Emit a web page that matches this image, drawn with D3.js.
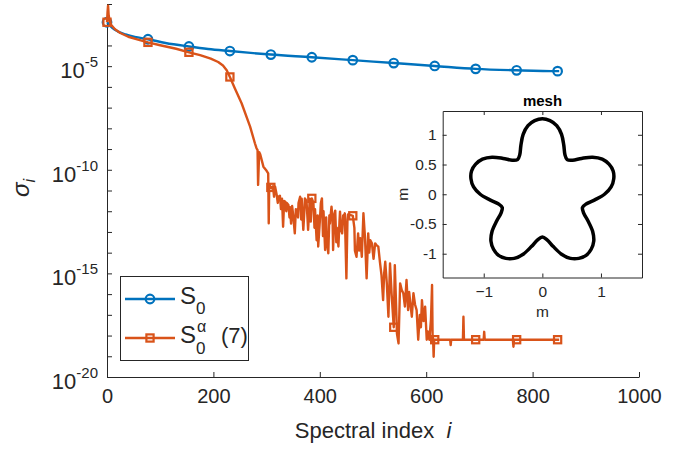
<!DOCTYPE html>
<html><head><meta charset="utf-8">
<script src="https://cdn.jsdelivr.net/npm/d3@7/dist/d3.min.js"></script>
<style>
body{margin:0;background:#fff}
svg{display:block;font-family:"Liberation Sans",Arial,Helvetica,sans-serif}
</style>
</head><body>
<svg id="c" width="697" height="449"></svg>
<script>
// ---------------- data ----------------
const xTicks = [0, 200, 400, 600, 800, 1000];
const yTickExp = [-20,-19,-18,-17,-16,-15,-14,-13,-12,-11,-10,-9,-8,-7,-6,-5,-4,-3,-2];
const yLabelExp = [-20, -15, -10, -5];

// S_0 : spectral index and log10(sigma)
const s0Idx = [0, 3, 6, 10, 20, 35, 55, 77, 110, 154, 190, 231, 270, 308, 385, 462, 539, 616, 693, 770, 847, 850];
const s0Log = [-2.88, -2.95, -3.05, -3.15, -3.32, -3.47, -3.6, -3.7, -3.88, -4.05, -4.17, -4.27, -4.36, -4.44, -4.57, -4.71, -4.85, -4.99, -5.13, -5.2, -5.24, -5.24];

// S_0^alpha (7)
const saIdx = [0,1,2,3,5,8,15,25,40,60,77,100,130,154,175,195,209,218,225,231,240,253,269,278,281,283,284,286,288,294,300,303,
  304,305,308,310,312,314,316,319,321,322,325,327,329,331,333,335,337,338,341,343,344,346,348,350,353,355,357,359,360,363,365,366,369,371,372,375,377,378,380,381,383,385,388,390,391,394,396,397,400,402,404,406,407,410,412,413,416,418,419,422,424,425,427,429,431,432,435,437,438,440,442,444,445,447,450,452,453,
  457,462,465,466,469,472,474,476,479,482,485,488,491,493,495,498,501,504,507,510,513,516,519,521,523,526,529,532,535,539,541,543,545,548,551,554,557,560,563,566,568,570,573,576,579,582,585,588,590,592,595,598,601,603,606,609,611,612,613,614,615,616,
  645,646,647,669,670,671,693,708,709,710,763,764,765,770,847,850];
const saLog = [-2.88,-2.4,-2.08,-2.5,-2.85,-3.02,-3.22,-3.4,-3.58,-3.73,-3.85,-3.99,-4.16,-4.33,-4.47,-4.64,-4.8,-4.97,-5.2,-5.52,-6.05,-6.79,-7.92,-8.72,-8.96,-9.05,-10.73,-9.15,-9.25,-9.85,-10.05,-10.17,
  -12.58,-10.7,-10.85,-10.9,-10.8,-11.3,-10.82,-11.22,-11.6,-11.3,-11.25,-11.9,-11.4,-12.75,-11.5,-11.54,-12.0,-11.6,-11.7,-12.3,-11.8,-12.6,-11.75,-12.2,-13.07,-11.9,-11.94,-12.3,-11.6,-11.3,-12.4,-11.4,-12.9,-12.0,-11.38,-11.5,-12.4,-12.9,-12.0,-11.4,-12.5,-11.38,-11.6,-12.8,-11.9,-13.4,-12.2,-13.7,-12.5,-11.6,-11.38,-13.2,-12.0,-13.87,-12.3,-13.4,-14.03,-12.2,-12.6,-11.78,-12.4,-13.87,-12.2,-11.97,-13.5,-12.8,-13.7,-12.5,-12.02,-12.9,-13.07,-12.2,-12.3,-12.1,-15.24,-12.4,-12.15,
  -12.18,-12.22,-12.8,-13.9,-14.2,-13.07,-13.9,-13.3,-14.2,-12.1,-13.3,-15.24,-13.07,-14.0,-13.4,-13.55,-14.3,-13.55,-13.65,-13.71,-14.44,-15.1,-16.29,-15.0,-14.44,-15.5,-17.09,-14.52,-16.0,-17.6,-14.6,-16.2,-17.9,-18.38,-15.48,-15.8,-15.96,-16.6,-15.32,-16.77,-15.9,-16.4,-17.09,-15.96,-16.5,-16.77,-18.2,-17.0,-17.6,-16.29,-17.3,-16.61,-18.2,-17.8,-18.2,-17.2,-15.56,-18.0,-18.2,-19.02,-18.2,-18.2,
  -18.2,-18.46,-18.2,-18.2,-17.09,-18.2,-18.2,-18.2,-17.82,-18.2,-18.2,-18.54,-18.2,-18.2,-18.2,-18.2];

const markerIdx = [0, 77, 154, 231, 308, 385, 462, 539, 616, 693, 770, 847];

// inset mesh outline: polar angle (deg, clockwise from +y) and radius (m)
const meshAngleDeg = [0,6,12,18,24,30,36,42,48,54,60,66,72,78,84,90,96,102,108,114,120,126,132,138,144,150,156,162,168,174,180,186,192,198,204,210,216,222,228,234,240,246,252,258,264,270,276,282,288,294,300,306,312,318,324,330,336,342,348,354];
const meshRadius = [1.27,1.245,1.18,1.06,0.9,0.77,0.72,0.77,0.9,1.06,1.18,1.245,1.27,1.245,1.18,1.06,0.9,0.77,0.72,0.77,0.9,1.06,1.18,1.245,1.27,1.245,1.18,1.06,0.9,0.77,0.72,0.77,0.9,1.06,1.18,1.245,1.27,1.245,1.18,1.06,0.9,0.77,0.72,0.77,0.9,1.06,1.18,1.245,1.27,1.245,1.18,1.06,0.9,0.77,0.72,0.77,0.9,1.06,1.18,1.245];
const insetXTicks = [-1, 0, 1];
const insetYTicks = [-1, -0.5, 0, 0.5, 1];

// ---------------- drawing ----------------
const TXT = "#262626";
const BLUE = "#0072BD", ORANGE = "#D95319";
const svg = d3.select("#c");

const x = d3.scaleLinear().domain([0, 1000]).range([107, 639]);
const y = d3.scaleLog().domain([1e-20, 1e-2]).range([377, 4]);

const s0 = s0Idx.map((d, i) => ({i: d, v: Math.pow(10, s0Log[i])}));
const sa = saIdx.map((d, i) => ({i: d, v: Math.pow(10, saLog[i])}));

// axes
const gx = svg.append("g").attr("transform", "translate(0,377)")
  .call(d3.axisBottom(x).tickValues(xTicks).tickSize(-5).tickSizeOuter(0).tickPadding(12).tickFormat(d3.format("d")));
const gy = svg.append("g").attr("transform", "translate(107,0)")
  .call(d3.axisLeft(y).tickValues(yTickExp.map(e => Math.pow(10, e))).tickSize(-5).tickSizeOuter(0).tickFormat(""));
[gx, gy].forEach(g => {
  g.attr("font-family", null).attr("font-size", null);
  g.select(".domain").attr("stroke", TXT).attr("stroke-width", 1);
  g.selectAll(".tick line").attr("stroke", TXT).attr("stroke-width", 1);
});
gx.selectAll(".tick text").attr("fill", TXT).attr("font-size", 20).attr("dy", "0.71em");

// y labels with superscript
yLabelExp.forEach(e => {
  const t = svg.append("text").attr("x", 98).attr("y", y(Math.pow(10, e)) + 12)
    .attr("text-anchor", "end").attr("fill", TXT).attr("font-size", 22);
  t.append("tspan").text("10");
  t.append("tspan").attr("font-size", 15).attr("dy", -11).text(String(e));
});

// axis titles
const xl = svg.append("text").attr("x", 373).attr("y", 438).attr("text-anchor", "middle")
  .attr("fill", TXT).attr("font-size", 22);
xl.append("tspan").text("Spectral index\u00A0\u00A0");
xl.append("tspan").attr("font-style", "italic").text("i");

const yl = svg.append("text").attr("transform", "translate(29,188) rotate(-90)")
  .attr("text-anchor", "middle").attr("fill", TXT).attr("font-size", 24);
yl.append("tspan").attr("font-style", "italic").text("σ");
yl.append("tspan").attr("font-style", "italic").attr("font-size", 16).attr("dy", 6).text("i");

// series
const line = d3.line().x(d => x(d.i)).y(d => y(d.v));
svg.append("path").datum(s0).attr("fill", "none").attr("stroke", BLUE).attr("stroke-width", 2.4)
  .attr("stroke-linejoin", "round").attr("d", line.curve(d3.curveMonotoneX));
svg.append("g").selectAll("circle").data(s0.filter(d => markerIdx.includes(d.i))).join("circle")
  .attr("cx", d => x(d.i)).attr("cy", d => y(d.v)).attr("r", 4.3)
  .attr("fill", "none").attr("stroke", BLUE).attr("stroke-width", 2.2);

const line2 = d3.line().x(d => x(d.i)).y(d => y(d.v));
svg.append("path").datum(sa).attr("fill", "none").attr("stroke", ORANGE).attr("stroke-width", 2.4)
  .attr("stroke-linejoin", "round").attr("d", line2);
svg.append("g").selectAll("rect").data(sa.filter(d => markerIdx.includes(d.i))).join("rect")
  .attr("x", d => x(d.i) - 3.6).attr("y", d => y(d.v) - 3.6).attr("width", 7.2).attr("height", 7.2)
  .attr("fill", "none").attr("stroke", ORANGE).attr("stroke-width", 2.2);

// legend
const lg = svg.append("g");
lg.append("rect").attr("x", 120.5).attr("y", 276.5).attr("width", 128).attr("height", 84)
  .attr("fill", "#fff").attr("stroke", TXT).attr("stroke-width", 1);
lg.append("line").attr("x1", 125).attr("x2", 175).attr("y1", 299).attr("y2", 299).attr("stroke", BLUE).attr("stroke-width", 2.4);
lg.append("circle").attr("cx", 150).attr("cy", 299).attr("r", 4.3).attr("fill", "none").attr("stroke", BLUE).attr("stroke-width", 2.2);
lg.append("line").attr("x1", 125).attr("x2", 175).attr("y1", 338).attr("y2", 338).attr("stroke", ORANGE).attr("stroke-width", 2.4);
lg.append("rect").attr("x", 146.4).attr("y", 334.4).attr("width", 7.2).attr("height", 7.2).attr("fill", "none").attr("stroke", ORANGE).attr("stroke-width", 2.2);
const l1 = lg.append("text").attr("x", 180).attr("y", 304).attr("fill", TXT).attr("font-size", 24);
l1.append("tspan").text("S");
l1.append("tspan").attr("font-size", 17).attr("dy", 10).text("0");
lg.append("text").attr("x", 180).attr("y", 343).attr("fill", TXT).attr("font-size", 24).text("S");
lg.append("text").attr("x", 197).attr("y", 332).attr("fill", TXT).attr("font-size", 16).text("α");
lg.append("text").attr("x", 196).attr("y", 354).attr("fill", TXT).attr("font-size", 17).text("0");
lg.append("text").attr("x", 221).attr("y", 343).attr("fill", TXT).attr("font-size", 22).text("(7)");

// inset
const ix = d3.scaleLinear().domain([-1.7, 1.7]).range([442.7, 642]);
const iy = d3.scaleLinear().domain([-1.4, 1.4]).range([277.5, 111]);
const ig = svg.append("g");
ig.append("rect").attr("x", 442.7).attr("y", 111).attr("width", 642 - 442.7).attr("height", 277.5 - 111)
  .attr("fill", "#fff").attr("stroke", "none");
const gix = ig.append("g").attr("transform", "translate(0,277.5)")
  .call(d3.axisBottom(ix).tickValues(insetXTicks).tickSize(-4).tickSizeOuter(0).tickPadding(8).tickFormat(d3.format("d")));
const gixt = ig.append("g").attr("transform", "translate(0,111)")
  .call(d3.axisTop(ix).tickValues(insetXTicks).tickSize(-4).tickSizeOuter(0).tickFormat(""));
const giy = ig.append("g").attr("transform", "translate(442.7,0)")
  .call(d3.axisLeft(iy).tickValues(insetYTicks).tickSize(-4).tickSizeOuter(0).tickPadding(6).tickFormat(d => String(d)));
const giyr = ig.append("g").attr("transform", "translate(642,0)")
  .call(d3.axisRight(iy).tickValues(insetYTicks).tickSize(-4).tickSizeOuter(0).tickFormat(""));
[gix, gixt, giy, giyr].forEach(g => {
  g.attr("font-family", null).attr("font-size", null);
  g.select(".domain").attr("stroke", TXT);
  g.selectAll(".tick line").attr("stroke", TXT);
  g.selectAll(".tick text").attr("fill", TXT).attr("font-size", 15.5);
});

const mesh = meshAngleDeg.map((a, i) => ({a: a * Math.PI / 180, r: meshRadius[i]}));
ig.append("path").datum(mesh).attr("fill", "none").attr("stroke", "#000").attr("stroke-width", 3.5)
  .attr("d", d3.line().curve(d3.curveCatmullRomClosed.alpha(0.5))
    .x(d => ix(d.r * Math.sin(d.a))).y(d => iy(d.r * Math.cos(d.a))));

ig.append("text").attr("x", 542.5).attr("y", 106).attr("text-anchor", "middle").attr("fill", "#000")
  .attr("font-size", 15).attr("font-weight", "bold").text("mesh");
ig.append("text").attr("x", 542.5).attr("y", 317).attr("text-anchor", "middle").attr("fill", TXT)
  .attr("font-size", 15.5).text("m");
ig.append("text").attr("transform", "translate(408,194.3) rotate(-90)").attr("text-anchor", "middle")
  .attr("fill", TXT).attr("font-size", 15.5).text("m");
</script>
</body></html>
